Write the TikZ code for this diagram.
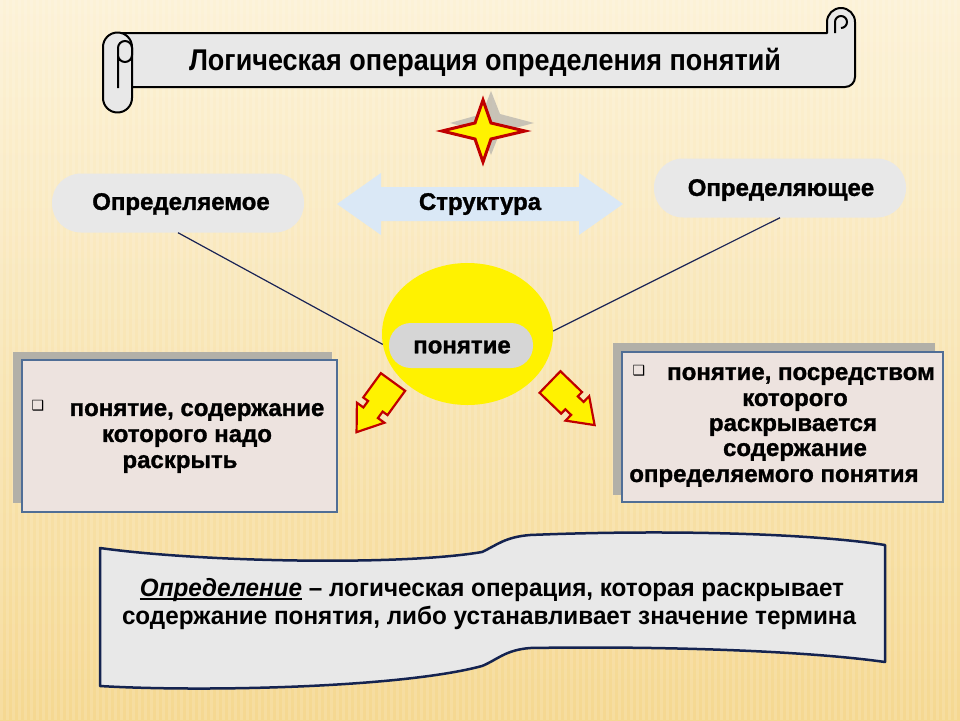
\documentclass[tikz,border=0pt]{standalone}
\usepackage{fontspec}
\setmainfont{Liberation Sans}
\newfontfamily\heavyf[BoldFeatures={FakeBold=1.2}]{Liberation Sans}
\newfontfamily\narrowf[FakeStretch=0.9]{Liberation Sans}
\newfontfamily\bannerf[FakeStretch=0.97]{Liberation Sans}
\newfontfamily\symf{DejaVu Sans}
\newcommand\myul[1]{\setbox0\hbox{#1}\rlap{\rule[-3.5pt]{\wd0}{1.6pt}}\box0}
\usetikzlibrary{shapes.geometric}
\definecolor{bgtop}{RGB}{252,242,215}
\definecolor{bgbot}{RGB}{245,216,145}
\definecolor{pillgray}{RGB}{232,232,232}
\definecolor{pilldark}{RGB}{214,214,214}
\definecolor{boxfill}{RGB}{237,227,223}
\definecolor{boxedge}{RGB}{80,110,150}
\definecolor{shadowgray}{RGB}{178,176,168}
\definecolor{navy}{RGB}{25,35,85}
\definecolor{starred}{RGB}{192,0,0}
\definecolor{lightblue}{RGB}{218,232,246}
\definecolor{banneredge}{RGB}{20,35,80}
\tikzset{
  pill/.style={fill=pillgray, draw=none, rounded corners=29pt, minimum width=252pt, minimum height=59pt, inner sep=0},
  txt/.style={font=\heavyf\fontsize{24}{28}\selectfont\bfseries, inner sep=0},
  conn/.style={draw=navy, line width=1.2pt},
  scroll/.style={fill=pillgray, draw=black, line width=2pt, line join=round},
  bigbox/.style={fill=boxfill, draw=boxedge, line width=2.5pt},
  shadowbox/.style={fill=shadowgray, draw=none},
  fat/.style={fill=yellow, draw=starred, line width=2.2pt, line join=miter},
  chk/.style={font=\symf\fontsize{14}{16}\selectfont, inner sep=0},
  bantxt/.style={font=\bannerf\fontsize{25}{28}\selectfont\bfseries, inner sep=0},
  fatarrow/.pic={\path[fat] (0,-15) -- (30,-15) -- (30,-9) -- (38,-9) -- (38,-17) -- (62,0) -- (38,17) -- (38,9) -- (30,9) -- (30,15) -- (0,15) -- cycle;}
}
\begin{document}
\begin{tikzpicture}[x=1pt,y=-1pt]
\useasboundingbox (0,0) rectangle (960,720);
\shade[top color=bgtop, bottom color=bgbot] (0,0) rectangle (960,720);
\foreach \i in {0,...,159} \fill[white, opacity=0.13] (\i*6,0) rectangle ++(3,720);

% title scroll
\path[scroll] (117,33) -- (827,33) -- (827,22) arc[start angle=180, end angle=360, radius=14] -- (855,77) arc[start angle=0, end angle=90, radius=10] -- (117,87) -- cycle;
\draw[line width=2pt] (835,33) -- (835,22) arc[start angle=180, end angle=360, radius=6] arc[start angle=0, end angle=90, radius=6];
\path[scroll] (103,47) arc[start angle=180, end angle=360, radius=14.5] -- (132,98) arc[start angle=0, end angle=180, radius=14.5] -- cycle;
\draw[line width=2pt] (118,88) -- (118,48) arc[start angle=180, end angle=360, radius=7] -- (132,55) arc[start angle=0, end angle=180, radius=7];
\node[font=\narrowf\fontsize{30}{33}\selectfont\bfseries, inner sep=0] (title) at (485,62) {Логическая операция определения понятий};

% star
\fill[gray!70, opacity=0.6] (491,91) -- (500,114) -- (534,123) -- (500,132) -- (491,155) -- (482,132) -- (450,123) -- (482,114) -- cycle;
\draw[fill=yellow, draw=starred, line width=3pt, line join=miter] (483,100) -- (491,123) -- (525,131) -- (491,139) -- (483,162) -- (475,139) -- (442,131) -- (475,123) -- cycle;

% top pills and structure arrow
\node[pill] (defd) at (178,203) {};
\node[txt] (defdt) at (181,204) {Определяемое};
\node[pill] (defg) at (780,188) {};
\node[txt] (defgt) at (781,190) {Определяющее};
\fill[lightblue] (337,204) -- (381,173) -- (381,187) -- (579,187) -- (579,173) -- (623,204) -- (579,235) -- (579,221) -- (381,221) -- (381,235) -- cycle;
\node[txt] (struct) at (480,204) {Структура};

% central ellipse
\node[ellipse, fill=yellow, draw=none, minimum width=171pt, minimum height=142pt, inner sep=0] (ell) at (467.5,334) {};
\draw[conn] (defd.south) -- (ell.187);
\draw[conn] (defg.south) -- (ell.2);
\node[fill=pilldark, rounded corners=22pt, minimum width=144pt, minimum height=45pt, inner sep=0] (pon) at (461,345.5) {};
\node[txt] (pont) at (462,347) {понятие};

% fat arrows
\pic[rotate=234] at (393,382) {fatarrow};
\pic[rotate=-44] at (550,382) {fatarrow};

% left box
\path[shadowbox] (13,352) rectangle (332,503);
\path[bigbox] (22,360) rectangle (337,512);
\node[chk] (lchk) at (38,406) {❑};
\node[txt] (l1) at (197,412) {понятие, содержание};
\node[txt] (l2) at (187,438) {которого надо};
\node[txt] (l3) at (180,464) {раскрыть};

% right box
\path[shadowbox] (613,343) rectangle (935,495);
\path[bigbox] (622,352) rectangle (943,502);
\node[chk] (rchk) at (639,371) {❑};
\node[txt] (r1) at (801,376) {понятие, посредством};
\node[txt] (r2) at (795,402) {которого};
\node[txt] (r3) at (793,427) {раскрывается};
\node[txt] (r4) at (795,452) {содержание};
\node[txt] (r5) at (774,478) {определяемого понятия};

% bottom banner
\path[fill=pillgray, draw=banneredge, line width=2.5pt, line join=round]
  (100,548) .. controls (200,562) and (400,566) .. (482,552)
  .. controls (497,545) and (505,537) .. (530,535)
  .. controls (650,530) and (800,532) .. (885,545)
  -- (885,662)
  .. controls (800,650) and (650,646) .. (530,648)
  .. controls (505,650) and (497,660) .. (482,666)
  .. controls (400,688) and (200,692) .. (100,686) -- cycle;
\node[bantxt] (b1) at (492,590) {\myul{\textit{Определение}}\ – логическая операция, которая раскрывает};
\node[bantxt] (b2) at (489,618) {содержание понятия, либо устанавливает значение термина};
\end{tikzpicture}
\end{document}
